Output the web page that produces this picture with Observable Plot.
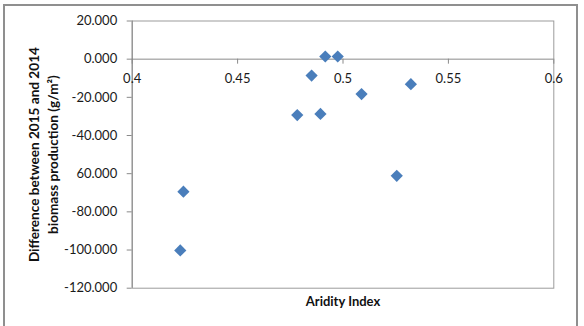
<!DOCTYPE html>
<html>
<head>
<meta charset="utf-8">
<script src="https://cdn.jsdelivr.net/npm/d3@7"></script>
<script src="https://cdn.jsdelivr.net/npm/@observablehq/plot@0.6"></script>
<style>
  html, body { margin: 0; padding: 0; background: #fff; }
  #wrap { position: relative; width: 584px; height: 326px; overflow: hidden; }
  #border {
    position: absolute; left: 3px; top: 4px; width: 575px; height: 340px;
    border: 2px solid #8f8f8f; box-sizing: border-box; pointer-events: none;
  }
</style>
</head>
<body>
<div id="wrap"><div id="border"></div></div>
<script>
// Aridity index of each site and the change in biomass production (2015 minus 2014, g/m²)
const aridity = [0.4243, 0.4228, 0.4783, 0.4851, 0.4893, 0.4916, 0.4975, 0.5088, 0.5255, 0.5322];
const biomassDiff = [-69.4, -100.2, -29.3, -8.6, -28.7, 1.4, 1.4, -18.3, -61.1, -13.1];

// Axis ticks and their printed labels
const xTicks = [0.4, 0.45, 0.5, 0.55, 0.6];
const xTickLabels = ["0.4", "0.45", "0.5", "0.55", "0.6"];
const yTicks = [20, 0, -20, -40, -60, -80, -100, -120];
const yTickLabels = ["20.000", "0.000", "-20.000", "-40.000", "60.000", "-80.000", "-100.000", "-120.000"];

const points = aridity.map((a, i) => ({aridity: a, diff: biomassDiff[i]}));
const xLabelRows = xTicks.map((t, i) => ({t, label: xTickLabels[i]}));
const yLabelMap = new Map(yTicks.map((t, i) => [t, yTickLabels[i]]));

const font = "Lato, 'Open Sans', sans-serif";

const chart = Plot.plot({
  width: 584,
  height: 326,
  marginLeft: 131.7,
  marginRight: 30.7,
  marginTop: 20.5,
  marginBottom: 38.3,
  style: {fontFamily: font, fontSize: "13px", color: "#1a1a1a", background: "transparent"},
  x: {domain: [0.4, 0.6], axis: null},
  y: {domain: [-120, 20], axis: null},
  marks: [
    // plot-area border
    Plot.frame({stroke: "#9c9c9c", strokeWidth: 1}),
    // vertical value axis with outward ticks
    Plot.axisY({
      ticks: yTicks,
      tickFormat: (d) => yLabelMap.get(d),
      tickSize: 5,
      tickPadding: 10,
      stroke: "#8a8a8a",
      fill: "#1a1a1a",
      fontSize: 13,
      label: null
    }),
    Plot.ruleX([0.4], {stroke: "#8a8a8a"}),
    // horizontal axis crossing at zero
    Plot.ruleY([0], {stroke: "#8a8a8a"}),
    Plot.ruleX(xTicks, {x: (d) => d, y1: 0, y2: 0, insetBottom: -5, stroke: "#8a8a8a"}),
    Plot.text(xLabelRows, {x: "t", y: 0, text: "label", dy: 19.5, fontSize: 13, fill: "#1a1a1a"}),
    // data points
    Plot.dot(points, {x: "aridity", y: "diff", symbol: "diamond2", r: 5.5, fill: "#4a7ebb", stroke: "none"}),
    // axis titles
    Plot.text(["Difference between 2015 and 2014\nbiomass production (g/m²)"], {
      frameAnchor: "left", textAnchor: "middle", lineAnchor: "middle",
      rotate: -90, dx: -89.7, lineHeight: 1.4,
      fontSize: 13.6, fontWeight: "bold", fill: "#111"
    }),
    Plot.text(["Aridity Index"], {
      frameAnchor: "bottom", lineAnchor: "middle", dy: 13.5,
      fontSize: 13, fontWeight: "bold", fill: "#111"
    })
  ]
});

document.getElementById("wrap").prepend(chart);
</script>
</body>
</html>
